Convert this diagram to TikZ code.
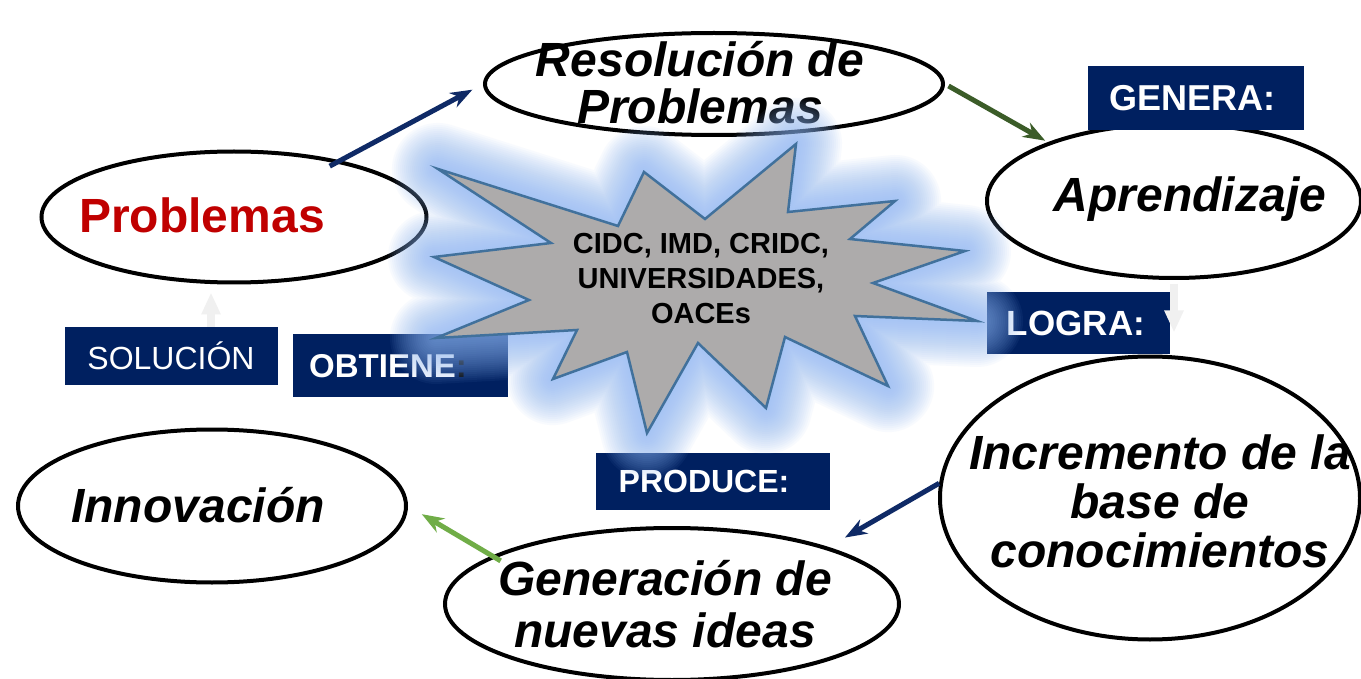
\documentclass[tikz,border=0pt]{standalone}
\usepackage{fontspec}
\setmainfont{Liberation Sans}
\usetikzlibrary{arrows.meta,shapes.geometric}
\definecolor{tagnavy}{HTML}{002060}
\definecolor{arrownavy}{HTML}{0F2A66}
\definecolor{leafgreen}{HTML}{3B5C28}
\definecolor{limegreen}{HTML}{70AD47}
\definecolor{probred}{HTML}{C00000}
\definecolor{starfill}{HTML}{ADABAB}
\definecolor{starline}{HTML}{41719C}
\definecolor{glowblue}{HTML}{8DB6F4}

\tikzset{
  bubble/.style={ellipse,draw=black,line width=4pt,fill=white,inner sep=0pt},
  bubtext/.style={font=\fontsize{48}{47}\selectfont\bfseries\itshape,align=center,inner sep=0pt},
  tagbox/.style={fill=tagnavy,text=white,inner sep=0pt,font=\fontsize{32}{32}\selectfont\bfseries},
  flow/.style={-{Stealth[length=22pt,width=16pt,inset=7pt]},line width=5pt},
  faint/.style={-{Triangle[length=22pt,width=18pt]},line width=8pt,black!6},
}

\def\hubpath{(438,169) -- (618,226) -- (644,172) -- (705,219) -- (796,144) -- (788,212)
  -- (895,201) -- (850,239) -- (965,251) -- (873,283) -- (977,321) -- (855,316)
  -- (888,386) -- (785,337) -- (766,408) -- (698,343) -- (647,433) -- (627,352)
  -- (553,379) -- (577,330) -- (436,338) -- (529,300) -- (434,257) -- (551,243) -- cycle}

\begin{document}
\begin{tikzpicture}[x=1pt,y=-1pt]
\useasboundingbox[fill=white] (0,0) rectangle (1361,679);
% ellipses of the cycle
\node[bubble,minimum width=458pt,minimum height=102pt] (res) at (714,84) {};
\node[bubble,minimum width=385pt,minimum height=131pt] (prob) at (234,217) {};
\node[bubble,minimum width=374pt,minimum height=154pt] (apr) at (1174,201) {};
\node[bubble,minimum width=420pt,minimum height=283pt] (inc) at (1150,498) {};
\node[bubble,minimum width=454pt,minimum height=152pt] (gen) at (672,604) {};
\node[bubble,minimum width=388pt,minimum height=153pt] (inn) at (212,506) {};
\node[bubtext] (res-t) at (700,83) {Resolución de\\Problemas};
\node[font=\fontsize{48}{48}\selectfont\bfseries,text=probred,inner sep=0pt] (prob-t) at (202,215) {Problemas};
\node[bubtext] (apr-t) at (1190,199) {Aprendizaje};
\node[bubtext,font=\fontsize{48}{49}\selectfont\bfseries\itshape] (inc-t) at (1160,501) {Incremento de la\\base de\\conocimientos};
\node[bubtext,font=\fontsize{48}{52}\selectfont\bfseries\itshape] (gen-t) at (665,604) {Generación de\\nuevas ideas};
\node[bubtext] (inn-t) at (198,505) {Innovación};
% labels
\node[tagbox,minimum width=216pt,minimum height=64pt] (genera) at (1196,98) {};
\node[tagbox,font=\fontsize{36}{36}\selectfont\bfseries] (genera-t) at (1192,98) {GENERA:};
\node[tagbox,minimum width=183pt,minimum height=62pt] (logra) at (1078,323) {};
\node[tagbox,font=\fontsize{35}{35}\selectfont\bfseries] (logra-t) at (1076,323) {LOGRA:};
\node[tagbox,font=\fontsize{32}{32}\selectfont,minimum width=213pt,minimum height=58pt] (sol) at (171,356) {SOLUCIÓN};
\node[tagbox,minimum width=215pt,minimum height=63pt] (obt) at (400,365) {};
\node[tagbox,fill=none,font=\fontsize{33}{33}\selectfont\bfseries] (obt-t) at (388,366) {OBTIENE{\color{black}:}};
\node[tagbox,minimum width=234pt,minimum height=57pt] (prod) at (713,481) {};
\node[tagbox,fill=none] (prod-t) at (704,481) {PRODUCE:};
% connectors
\draw[flow,arrownavy,shorten <=-12pt,shorten >=12pt] (prob.28) -- (res.west);
\draw[flow,leafgreen,shorten <=4pt,shorten >=3pt] (res.east) -- (apr.155);
\draw[faint,shorten <=4pt,shorten >=22pt] (apr.south) -- (apr.south |- inc.north);
\draw[flow,arrownavy,shorten >=19pt] (inc.176) -- (gen.20);
\draw[flow,limegreen,shorten <=-10pt,shorten >=16pt] (gen.165) -- (inn.east);
\draw[faint,shorten >=8pt] ([xshift=40pt]sol.north) -- ([xshift=40pt]sol.north |- prob.south);
% glowing star in the middle
\foreach \w in {4,8,...,92}
  \draw[glowblue,opacity=.055,line width=\w pt,line join=round] \hubpath;
\draw[fill=starfill,draw=starline,line width=2.5pt,line join=miter] \hubpath;
\node[font=\fontsize{29}{35}\selectfont\bfseries,align=center,inner sep=0pt] (hub-t) at (701,279)
  {CIDC, IMD, CRIDC,\\UNIVERSIDADES,\\OACEs};
\end{tikzpicture}
\end{document}
